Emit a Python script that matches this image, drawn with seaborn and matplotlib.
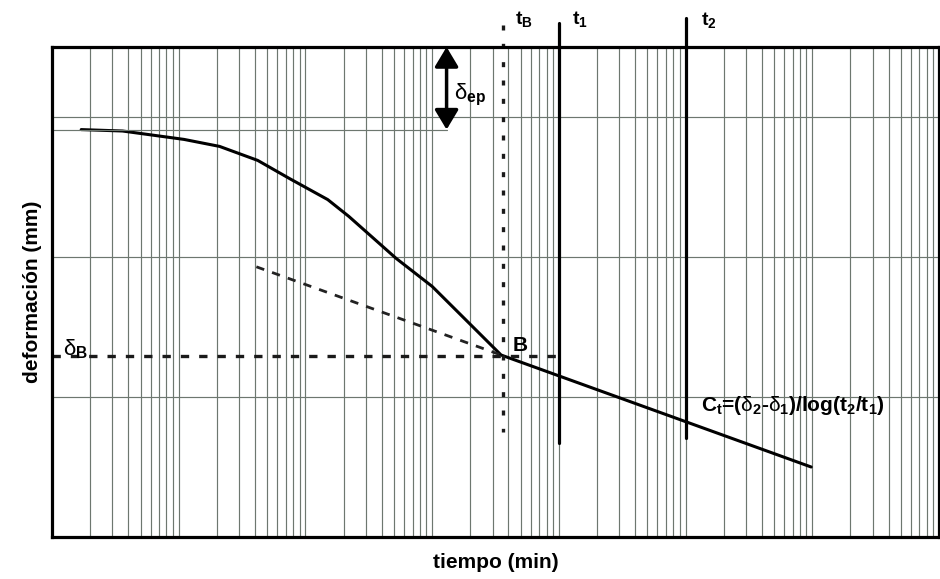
import numpy as np
import pandas as pd
import matplotlib
matplotlib.use('Agg')
import matplotlib.pyplot as plt
from matplotlib.ticker import LogLocator, NullFormatter, FixedLocator
import seaborn as sns

# consolidation curve (time in min, deformation in mm)
t_curve = [0.17, 0.36, 1.1, 2.1, 4.2, 7.5, 15, 22, 52, 100, 210, 350]
d_curve = [1.09, 1.10, 1.16, 1.21, 1.31, 1.44, 1.59, 1.71, 2.01, 2.21, 2.50, 2.70]

# secondary compression branch
t_sec = [350, 98000]
d_sec = [2.70, 3.50]

# tangent to the primary branch
t_tan = [4.1, 350]
d_tan = [2.07, 2.70]

t_B = 360
t_1 = 1000
t_2 = 10000
d_B = 2.71
d_0 = 1.09
d_top = 0.5

sns.set_style('white')
plt.rcParams['font.family'] = ['Liberation Sans', 'DejaVu Sans']
plt.rcParams['text.color'] = 'black'
plt.rcParams['axes.labelcolor'] = 'black'
plt.rcParams['mathtext.fontset'] = 'custom'
plt.rcParams['mathtext.rm'] = 'Liberation Sans'
plt.rcParams['mathtext.it'] = 'Liberation Sans'
plt.rcParams['mathtext.bf'] = 'Liberation Sans:bold'

fig = plt.figure(figsize=(9.4, 5.79), dpi=100)
ax = fig.add_axes([52/940, 42/579, 887/940, 490/579])

ax.set_xscale('log')
ax.set_xlim(0.1, 1e6)
ax.set_ylim(4.0, 0.5)

ax.xaxis.set_major_locator(LogLocator(base=10, numticks=20))
ax.xaxis.set_minor_locator(LogLocator(base=10, subs=np.arange(2, 10), numticks=20))
ax.xaxis.set_major_formatter(NullFormatter())
ax.xaxis.set_minor_formatter(NullFormatter())
ax.yaxis.set_major_locator(FixedLocator([1, 2, 3]))
ax.yaxis.set_major_formatter(NullFormatter())
ax.tick_params(which='both', length=0)
ax.grid(which='both', axis='x', color='#6d776f', lw=0.85)
ax.grid(which='major', axis='y', color='#6d776f', lw=0.85)
ax.set_axisbelow(True)
for s in ax.spines.values():
    s.set_color('black')
    s.set_linewidth(2.3)

curve = pd.DataFrame({'t': t_curve + t_sec[1:], 'd': d_curve + d_sec[1:]})
sns.lineplot(data=curve, x='t', y='d', ax=ax, color='black', lw=2.2,
             sort=False, estimator=None)

sns.lineplot(x=t_tan, y=d_tan, ax=ax, color='#222222', lw=2.0,
             linestyle=(0, (3, 3)), sort=False, estimator=None)
ax.plot([0.1, 1100], [d_B, d_B], color='#1a1a1a', lw=2.4,
        linestyle=(0, (2.5, 3)), clip_on=False)
ax.plot([t_B, t_B], [0.34, 3.25], color='#1a1a1a', lw=2.4,
        linestyle=(0, (1.5, 4)), clip_on=False)
ax.plot([t_1, t_1], [0.33, 3.33], color='black', lw=2.3, clip_on=False)
ax.plot([t_2, t_2], [0.29, 3.29], color='black', lw=2.3, clip_on=False)

ax.plot([0.1, 130], [d_0, d_0], color='#6d776f', lw=0.85)
ax.annotate('', xy=(130, d_top), xytext=(130, d_0),
            arrowprops=dict(arrowstyle='<|-|>,head_length=1.2,head_width=0.72',
                            color='black', lw=2.5, shrinkA=0, shrinkB=0))

kw = dict(fontsize=14, fontweight='bold', va='center', ha='left', clip_on=False)
ax.text(447, 0.30, r't$_\mathbf{B}$', **kw)
ax.text(1280, 0.30, r't$_\mathbf{1}$', **kw)
ax.text(13300, 0.31, r't$_\mathbf{2}$', **kw)
ax.text(150, 0.84, r'$\delta_\mathbf{ep}$', fontsize=16, va='center', ha='left')
ax.text(0.122, 2.66, r'$\delta_\mathbf{B}$', fontsize=16, va='center', ha='left')
ax.text(431, 2.63, 'B', fontsize=15, fontweight='bold', va='center', ha='left')
ax.text(13300, 3.06,
        r'C$_\mathbf{t}$=($\delta_\mathbf{2}$-$\delta_\mathbf{1}$)/log(t$_\mathbf{2}$/t$_\mathbf{1}$)',
        fontsize=15, fontweight='bold', va='center', ha='left')

ax.set_xlabel('tiempo (min)', fontsize=15, fontweight='bold')
ax.set_ylabel('deformación (mm)', fontsize=15, fontweight='bold')
ax.xaxis.set_label_coords(0.5, -0.033)
ax.yaxis.set_label_coords(-0.011, 0.5)

fig.savefig('out.png', dpi=100, facecolor='white')
